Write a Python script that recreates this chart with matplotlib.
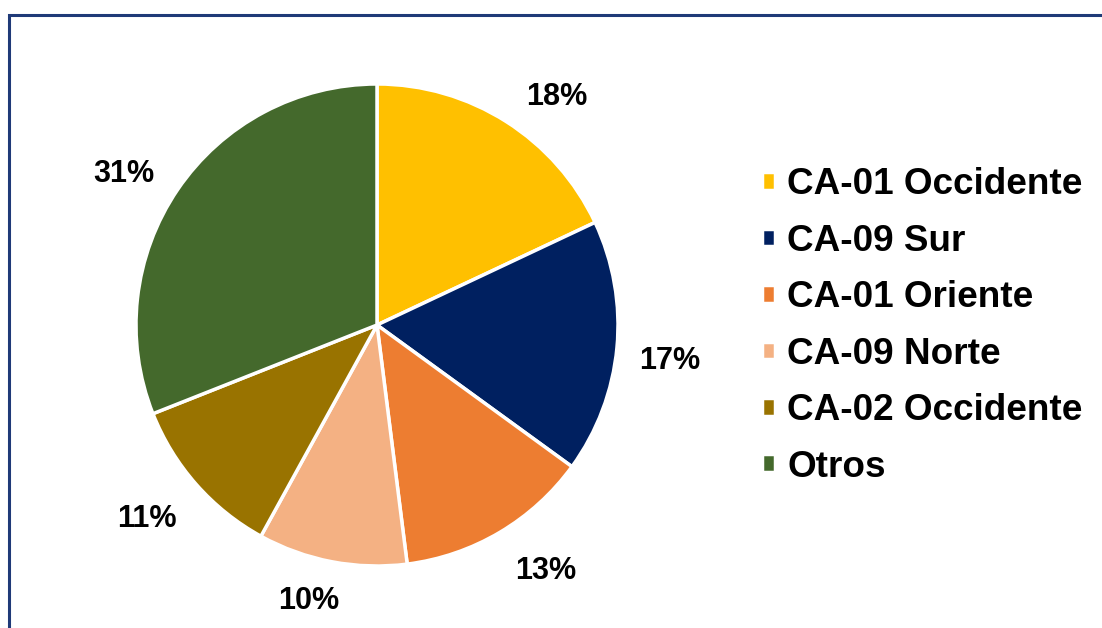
import matplotlib.pyplot as plt
from matplotlib.patches import Rectangle

# ================= datos =================
categorias = ['CA-01 Occidente', 'CA-09 Sur', 'CA-01 Oriente',
              'CA-09 Norte', 'CA-02 Occidente', 'Otros']
porcentajes = [18, 17, 13, 10, 11, 31]
colores = ['#FFC000', '#002060', '#ED7D31', '#F4B183', '#997300', '#44692C']

plt.rcParams['font.family'] = ['Liberation Sans', 'DejaVu Sans']
plt.rcParams['font.weight'] = 'bold'

fig = plt.figure(figsize=(11.02, 6.28), dpi=100)

# marco azul (recortado a la derecha y abajo, como en la imagen)
fig.patches.append(Rectangle((9 / 1102, -0.05), 1.2, 1 - 15 / 628 + 0.05,
                             transform=fig.transFigure, fill=False,
                             edgecolor='#1F3A78', linewidth=2.2))

# ================= pastel =================
cx, cy, r = 377 / 1102, 1 - 325 / 628, 241
w, h = 2 * r / 1102, 2 * r / 628
ax = fig.add_axes([cx - w / 2, cy - h / 2, w, h])

wedges, texts, autotexts = ax.pie(
    porcentajes, colors=colores, startangle=90, counterclock=False,
    autopct='%1.0f%%', pctdistance=1.22,
    wedgeprops=dict(edgecolor='white', linewidth=2.5),
    textprops=dict(fontsize=22, fontweight='bold', color='black'))
ax.set_xlim(-1, 1)
ax.set_ylim(-1, 1)
ax.set_aspect('equal')

# Excel coloca las etiquetas un poco distinto ("mejor ajuste")
ajustes = [(0.094, -0.082), (0.0, -0.033), (0.08, 0.03),
           (-0.055, 0.055), (-0.04, 0.0), (-0.04, -0.06)]
for t, (dx, dy) in zip(autotexts, ajustes):
    x0, y0 = t.get_position()
    t.set_position((x0 + dx, y0 + dy))

# ================= leyenda =================
fig.legend(wedges, categorias, loc='center left',
           bbox_to_anchor=(762 / 1102, 1 - 326 / 628),
           frameon=False, borderpad=0, borderaxespad=0,
           handlelength=0.36, handleheight=0.36, handletextpad=0.32,
           labelspacing=0.58, prop=dict(size=26.6, weight='bold'))

fig.savefig('out.png', dpi=100)
